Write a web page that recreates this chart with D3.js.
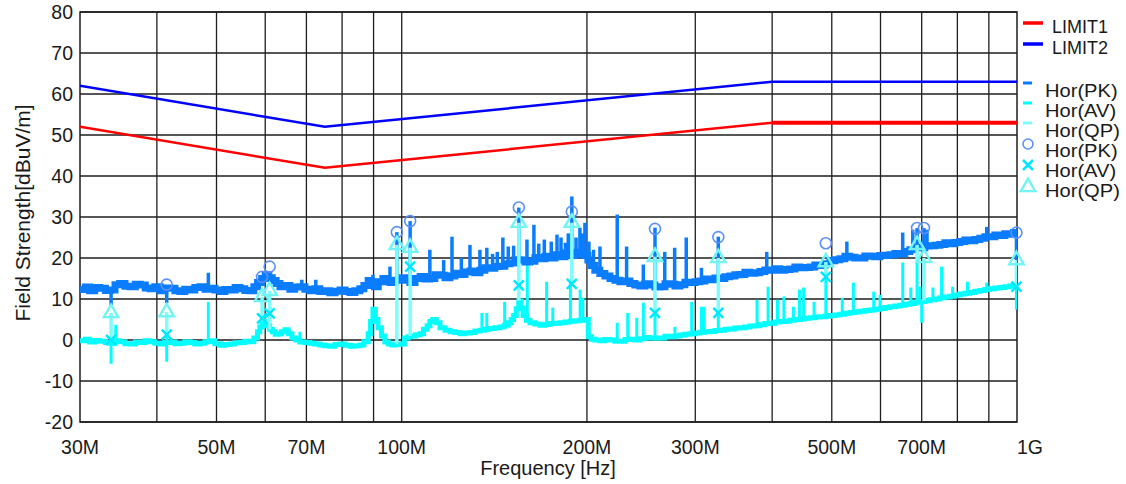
<!DOCTYPE html>
<html>
<head>
<meta charset="utf-8">
<script src="https://cdn.jsdelivr.net/npm/d3@7"></script>
<style>
  html, body { margin: 0; padding: 0; background: #fff; }
  svg { display: block; font-family: "Liberation Sans", Arial, sans-serif; }
</style>
</head>
<body>
<svg id="chart" width="1126" height="484"></svg>
<script>
// Frequency axis (MHz) and level axis (dBuV/m)
const xTickFreqs = [30, 50, 70, 100, 200, 300, 500, 700, 1000];
const xTickLabels = ["30M", "50M", "70M", "100M", "200M", "300M", "500M", "700M", "1G"];
const gridFreqs = [40, 50, 60, 70, 80, 90, 100, 200, 300, 400, 500, 600, 700, 800, 900];
const yTicks = [-20, -10, 0, 10, 20, 30, 40, 50, 60, 70, 80];

// Limit lines
const limitFreqs = [30, 75, 400, 1000];
const limit1 = [52, 42, 53, 53];
const limit2 = [62, 52, 63, 63];

// Peak sweep (MHz, dBuV/m)
const pkSweep = [
  [30,12.3],[30.6,12.9],[31.1,12.0],[31.7,12.8],[32.3,12.6],[33.0,12.1],[33.6,12.2],[34.2,13.5],[34.8,13.8],[35.5,13.1],
  [36.2,13.0],[36.9,13.6],[37.6,13.4],[38.3,12.7],[39.0,12.5],[39.7,13.0],[40.5,12.0],[41.2,12.7],[42.0,12.6],[42.8,12.0],
  [43.6,11.8],[44.4,12.4],[45.3,12.2],[46.1,12.8],[47.0,13.0],[47.9,12.4],[48.8,12.6],[49.7,12.2],[50.7,11.8],[51.6,12.3],
  [52.6,12.2],[53.6,12.8],[54.6,12.5],[55.6,12.1],[56.7,12.0],[57.5,13.0],[58.3,14.0],[59.2,15.0],[60.0,16.0],[60.8,15.2],
  [61.6,14.5],[62.5,13.8],[63.4,13.0],[64.6,13.3],[65.8,12.4],[67.0,12.9],[68.3,13.0],[69.6,12.4],[70.9,12.0],[72.2,12.5],
  [73.6,11.8],[75.0,12.0],[76.4,11.5],[77.9,11.9],[79.4,12.2],[80.9,11.8],[82.4,11.6],[83.9,12.0],[85.5,12.5],[86.8,13.3],
  [88.2,14.5],[89.2,13.6],[90.3,13.0],[91.6,14.2],[93.2,15.0],[94.4,14.3],[95.7,14.0],[97.5,14.6],[99.3,15.2],[101.2,14.6],
  [103.1,14.0],[105.1,15.0],[107.1,15.5],[109.1,14.9],[111.1,15.0],[113.2,15.9],[115.4,15.8],[117.6,15.2],[119.8,15.6],[122.0,16.3],
  [124.3,16.0],[126.7,16.6],[129.1,16.8],[131.5,16.4],[134.0,17.0],[136.5,17.6],[139.1,17.5],[141.7,17.9],[144.4,18.0],[147.1,18.6],
  [149.9,18.8],[152.7,19.6],[155.6,19.5],[158.6,19.0],[161.6,19.2],[164.6,20.1],[167.7,19.8],[170.9,20.4],[174.1,20.0],[177.4,20.8],
  [180.8,20.3],[184.2,21.2],[187.7,20.6],[191.2,21.4],[194.8,21.0],[197.8,20.6],[200.7,19.5],[203.3,18.2],[206.0,17.0],[209.9,16.2],
  [213.9,15.6],[218.0,15.0],[222.1,14.6],[226.3,14.2],[230.6,14.4],[234.9,13.8],[239.3,13.4],[243.8,13.2],[248.4,13.7],[253.1,13.4],
  [257.9,12.9],[262.8,13.0],[267.8,13.7],[272.8,13.6],[278.0,13.2],[283.2,13.5],[288.6,14.1],[294.0,14.0],[299.6,14.2],[305.2,14.4],
  [311.0,14.9],[316.9,14.7],[322.9,15.1],[328.9,15.0],[335.1,15.4],[341.5,15.6],[347.9,15.9],[354.5,16.0],[361.2,16.5],[368.0,16.3],
  [375.0,16.4],[382.0,16.7],[389.2,17.1],[396.6,17.0],[404.1,17.4],[411.7,17.0],[419.5,17.2],[427.4,17.3],[435.5,17.8],[443.7,17.6],
  [452.1,17.7],[460.6,17.8],[469.3,18.3],[478.2,18.2],[487.2,18.6],[496.4,19.3],[505.8,19.6],[515.3,19.8],[525.1,20.4],[535.0,20.2],
  [545.1,20.0],[555.4,20.0],[565.9,20.5],[576.6,20.4],[587.5,20.3],[598.6,20.6],[609.9,20.7],[621.4,20.8],[633.2,21.1],[645.1,21.0],
  [657.3,21.6],[669.7,22.0],[682.4,22.6],[695.2,22.5],[708.4,22.9],[721.7,23.0],[735.3,23.1],[749.2,23.3],[763.4,23.7],[777.8,23.5],
  [792.5,23.8],[807.4,24.0],[822.7,24.4],[838.2,24.2],[854.1,24.5],[870.2,24.8],[886.7,25.2],[903.4,25.2],[920.5,25.6],[937.8,25.5],
  [955.5,25.9],[973.6,25.8],[986.7,26.2],[1000,26.0]
];

// Narrow peak excursions: [MHz, low, high]
const pkSpikes = [
  [33.7,8.5,12.5],[41.5,9.0,12.5],[48.5,12.5,16.4],[68.8,12.5,14.7],[72.5,12.0,14.7],[89.8,13.5,15.9],[95.7,14.0,17.9],
  [98.2,14.5,26.3],[103.2,14.2,29.0],[111.1,15.0,22.0],[117.0,15.3,19.5],[120.7,15.8,25.2],[125.0,16.0,20.0],[129.1,16.8,23.2],
  [134.0,17.0,22.0],[137.5,17.4,22.5],[140.5,17.6,21.0],[143.0,17.9,21.5],[146.0,18.2,25.0],[149.0,18.6,22.8],[152.0,19.2,23.0],
  [155.0,19.4,32.3],[159.8,19.1,24.5],[164.0,20.0,28.1],[167.0,19.8,23.5],[170.5,20.3,24.5],[175.0,20.2,24.0],[178.8,20.6,25.7],
  [181.5,20.5,25.0],[184.5,21.0,23.7],[186.5,21.0,26.0],[189.0,20.8,35.0],[192.0,21.2,25.0],[194.8,21.0,27.4],[196.5,21.0,26.0],
  [198.5,20.4,28.6],[201.5,19.0,24.0],[205.0,17.5,22.0],[210.0,16.2,22.8],[224.0,14.4,30.6],[232.0,14.2,22.8],
  [247.0,13.4,18.4],[258.0,13.1,27.4],[267.6,13.6,21.5],[277.7,13.2,22.5],[290.0,14.0,25.0],[307.0,14.5,17.6],[327.0,15.0,25.2],
  [392.0,17.0,21.5],[529.0,20.2,24.0],[652.0,21.1,26.2],[677.0,22.2,26.9],[688.0,22.4,27.3],[706.0,22.8,27.3],[714.0,22.9,26.9],
  [893.0,25.1,27.6],[998.0,19.5,26.2]
];

// Average sweep (MHz, dBuV/m)
const avSweep = [
  [30,-0.2],[30.6,0.2],[31.1,-0.5],[31.7,-0.1],[32.3,-0.3],[33.0,-0.6],[33.6,-0.8],[34.2,-0.2],[34.8,-0.4],[35.5,-0.9],
  [36.2,-1.0],[36.9,-0.5],[37.6,-0.6],[38.3,-0.2],[39.0,-0.4],[39.7,-0.8],[40.5,-1.0],[41.2,-0.6],[42.0,-0.5],[42.8,-0.9],
  [43.6,-0.8],[44.4,-0.4],[45.3,-0.6],[46.1,-1.0],[47.0,-0.8],[47.9,-0.4],[48.8,-0.2],[49.7,-0.9],[50.7,-1.3],[51.6,-1.1],
  [52.6,-1.0],[53.6,-0.7],[54.6,-0.6],[55.6,-0.3],[56.7,-0.4],[57.5,0.5],[58.3,2.0],[58.8,3.2],[59.3,4.5],[59.8,3.8],
  [60.3,3.5],[61.0,2.6],[61.6,2.0],[62.3,1.4],[63.0,1.5],[63.8,2.0],[64.6,2.5],[65.4,1.5],[66.3,0.5],[67.3,0.0],
  [68.3,-0.5],[69.6,-0.6],[70.9,-0.8],[72.2,-1.0],[73.6,-1.2],[75.0,-1.4],[76.4,-1.5],[77.9,-1.1],[79.4,-1.0],[80.9,-1.3],
  [82.4,-1.5],[83.9,-1.4],[85.5,-1.2],[86.8,-0.4],[88.2,1.5],[89.0,4.5],[89.8,7.5],[90.6,5.0],[91.5,3.0],[92.7,1.0],
  [93.9,-0.5],[95.1,-1.0],[96.4,-1.2],[97.8,-1.1],[99.3,-1.0],[101.0,0.5],[102.4,0.8],[103.8,1.0],[105.4,1.3],[107.1,1.5],
  [108.5,2.6],[110.0,3.5],[111.1,4.5],[112.3,5.0],[113.8,4.2],[115.4,3.0],[117.6,2.4],[119.8,2.0],[122.0,1.8],[124.3,1.5],
  [126.7,1.7],[129.1,1.8],[131.5,2.2],[134.0,2.4],[136.5,2.6],[139.1,2.8],[141.7,3.0],[144.4,3.2],[146.7,3.6],[149.0,4.2],
  [150.6,5.0],[152.0,6.0],[153.5,7.6],[155.0,9.5],[156.3,7.8],[157.5,6.0],[159.5,4.8],[161.6,4.2],[164.6,3.9],[167.7,3.6],
  [170.9,3.8],[174.1,4.0],[177.4,4.1],[180.8,4.2],[184.2,4.4],[187.7,4.6],[191.2,4.7],[194.8,4.8],[197.0,4.9],[199.0,5.0],
  [201.0,0.8],[203.5,0.2],[206.0,0.0],[209.9,-0.2],[213.9,0.1],[218.0,0.0],[222.1,-0.3],[226.3,-0.3],[230.6,0.1],[234.9,0.2],
  [239.3,0.0],[243.8,0.3],[248.4,0.6],[253.1,0.5],[257.9,0.4],[262.8,0.5],[267.8,0.9],[272.8,0.8],[278.0,1.0],[283.2,1.2],
  [288.6,1.4],[294.0,1.5],[299.6,1.7],[305.2,1.9],[311.0,2.0],[316.9,2.1],[322.9,2.3],[328.9,2.4],[335.1,2.6],[341.5,2.7],
  [347.9,2.9],[354.5,3.0],[361.2,3.2],[368.0,3.4],[375.0,3.5],[382.0,3.7],[389.2,4.0],[396.6,4.1],[404.1,4.4],[411.7,4.5],
  [419.5,4.6],[427.4,4.8],[435.5,5.0],[443.7,5.1],[452.1,5.3],[460.6,5.4],[469.3,5.6],[478.2,5.7],[487.2,5.8],[496.4,6.0],
  [505.8,6.1],[515.3,6.3],[525.1,6.5],[535.0,6.7],[545.1,6.8],[555.4,7.0],[565.9,7.2],[576.6,7.3],[587.5,7.5],[598.6,7.7],
  [609.9,7.9],[621.4,8.1],[633.2,8.3],[645.1,8.5],[657.3,8.7],[669.7,8.9],[682.4,9.2],[695.2,9.4],[708.4,9.6],[721.7,9.8],
  [735.3,10.0],[749.2,10.3],[763.4,10.5],[777.8,10.7],[792.5,11.0],[807.4,11.2],[822.7,11.4],[838.2,11.6],[854.1,11.9],[870.2,12.1],
  [886.7,12.3],[903.4,12.5],[920.5,12.7],[937.8,12.8],[955.5,13.0],[973.6,13.2],[986.7,13.4],[1000,13.3]
];

// Narrow average excursions: [MHz, low, high]
const avSpikes = [
  [33.7,-5.8,0.0],[34.3,-0.5,3.7],[41.5,-5.3,1.3],[48.5,-0.5,9.3],[68.3,-0.5,2.0],
  [135.0,2.4,6.6],[137.5,2.6,6.6],[147.0,3.6,9.3],[160.0,4.5,18.9],[172.0,3.9,14.2],[176.0,4.0,7.9],[188.0,4.6,14.7],
  [195.0,4.8,12.3],[197.0,4.9,10.3],[224.0,-0.3,4.2],[233.0,0.1,6.6],[241.0,0.1,5.4],[247.0,0.4,9.1],[258.0,0.4,6.9],
  [278.0,1.0,3.2],[296.0,1.5,9.3],[307.0,1.9,8.1],[310.0,2.0,8.1],[327.0,2.4,6.9],[378.0,3.5,9.8],[394.0,4.0,13.0],
  [408.0,4.4,9.8],[418.0,4.5,10.6],[433.0,4.9,8.1],[443.0,5.1,12.3],[450.0,5.2,12.8],[468.0,5.5,9.3],[489.0,5.8,16.4],
  [520.0,6.3,10.3],[542.0,6.7,14.0],[585.0,7.4,11.8],[599.0,7.7,11.0],[652.0,8.5,18.9],[672.0,8.9,12.8],[688.0,9.2,19.6],
  [695.0,9.4,13.0],[700.0,4.2,9.5],[730.0,9.9,12.8],[754.0,10.3,17.9],[786.0,10.9,13.0],[831.0,11.5,14.2],[893.0,12.4,14.0],
  [998.0,7.4,14.0]
];

// Final measurements at selected frequencies (MHz, dBuV/m)
const qpPoints = [
  [33.7,6.6],[41.5,6.8],[59.3,10.5],[61.0,12.0],[98.2,23.2],[103.2,22.5],[155.0,28.6],[189.0,28.6],
  [258.0,20.3],[327.0,20.0],[489.0,19.0],[688.0,23.2],[706.0,20.0],[998.0,19.5]
];
const qpBase = [
  [33.7,0.0],[41.5,1.3],[59.3,4.5],[61.0,2.6],[98.2,-1.0],[103.2,1.0],[155.0,9.5],[189.0,13.7],
  [258.0,6.6],[327.0,6.6],[489.0,15.4],[688.0,19.6],[706.0,9.6],[998.0,13.0]
];
const pkPoints = [
  [41.5,13.5],[59.3,15.4],[61.0,17.9],[98.2,26.3],[103.2,29.0],[155.0,32.3],[189.0,31.3],
  [258.0,27.1],[327.0,25.1],[489.0,23.6],[688.0,27.3],[706.0,27.3],[998.0,26.2]
];
const avPoints = [
  [33.7,0.0],[41.5,1.3],[59.3,5.3],[61.0,6.5],[103.2,17.9],[155.0,13.3],[189.0,13.7],
  [258.0,6.6],[327.0,6.6],[489.0,15.4],[998.0,13.0]
];

const legendItems = ["LIMIT1", "LIMIT2", "Hor(PK)", "Hor(AV)", "Hor(QP)", "Hor(PK)", "Hor(AV)", "Hor(QP)"];

const C = {
  limit1: "#ff0000", limit2: "#0000ff",
  pk: "#0a7cff", av: "#00ffff", qp: "#7ffdfd",
  pkMark: "#5b8ff9", avMark: "#00e8ff", qpMark: "#70f4f4",
  grid: "#1e1e1e", text: "#1a1a1a"
};

const svg = d3.select("#chart");
const plotL = 80, plotR = 1017, plotT = 12, plotB = 422;
const x = d3.scaleLog().domain([30, 1000]).range([plotL, plotR]);
const y = d3.scaleLinear().domain([-20, 80]).range([plotB, plotT]);

const plot = svg.append("g");
plot.append("defs").append("clipPath").attr("id", "clip")
  .append("rect").attr("x", plotL).attr("y", plotT).attr("width", plotR - plotL).attr("height", plotB - plotT);

// grid
const grid = plot.append("g").attr("stroke", C.grid).attr("stroke-width", 1.3);
grid.selectAll(".gx").data(gridFreqs).join("line")
  .attr("x1", d => x(d)).attr("x2", d => x(d)).attr("y1", plotT).attr("y2", plotB);
grid.selectAll(".gy").data(yTicks).join("line")
  .attr("x1", plotL).attr("x2", plotR).attr("y1", d => y(d)).attr("y2", d => y(d));
plot.append("rect").attr("x", plotL).attr("y", plotT).attr("width", plotR - plotL).attr("height", plotB - plotT)
  .attr("fill", "none").attr("stroke", C.grid).attr("stroke-width", 1.5);

// tick labels
svg.append("g").selectAll("text").data(yTicks).join("text")
  .attr("x", 73).attr("y", d => y(d) + 7).attr("text-anchor", "end")
  .attr("font-size", 19.5).attr("fill", C.text).text(d => d);
svg.append("g").selectAll("text").data(xTickFreqs).join("text")
  .attr("x", (d, i) => x(d) + (i === xTickFreqs.length - 1 ? 13 : 0)).attr("y", 454)
  .attr("text-anchor", "middle").attr("font-size", 19.5).attr("fill", C.text)
  .text((d, i) => xTickLabels[i]);

svg.append("text").attr("x", 548).attr("y", 475).attr("text-anchor", "middle")
  .attr("font-size", 20).attr("fill", C.text).text("Frequency [Hz]");
svg.append("text").attr("transform", "translate(30,213) rotate(-90)").attr("text-anchor", "middle")
  .attr("font-size", 21).attr("fill", C.text).text("Field Strength[dBuV/m]");

const data = plot.append("g").attr("clip-path", "url(#clip)");
const line = d3.line().curve(d3.curveStepAfter).x(d => x(d[0])).y(d => y(d[1]));

// average sweep
data.append("path").datum(avSweep).attr("d", line).attr("fill", "none")
  .attr("stroke", C.av).attr("stroke-width", 5);
data.append("g").selectAll("line").data(avSpikes).join("line")
  .attr("x1", d => x(d[0])).attr("x2", d => x(d[0])).attr("y1", d => y(d[1])).attr("y2", d => y(d[2]))
  .attr("stroke", C.av).attr("stroke-width", 3);

// peak sweep
data.append("path").datum(pkSweep).attr("d", line).attr("fill", "none")
  .attr("stroke", C.pk).attr("stroke-width", 7);
data.append("g").selectAll("line").data(pkSpikes).join("line")
  .attr("x1", d => x(d[0])).attr("x2", d => x(d[0])).attr("y1", d => y(d[1])).attr("y2", d => y(d[2]))
  .attr("stroke", C.pk).attr("stroke-width", 3.5);

// final measurement stems
data.append("g").selectAll("line").data(qpPoints).join("line")
  .attr("x1", d => x(d[0])).attr("x2", d => x(d[0]))
  .attr("y1", (d, i) => y(qpBase[i][1])).attr("y2", d => y(d[1]))
  .attr("stroke", C.qp).attr("stroke-width", 3.5);

// limits
const limitLine = vals => d3.line().x((d, i) => x(limitFreqs[i])).y(d => y(d))(vals);
data.append("path").attr("d", limitLine(limit2)).attr("fill", "none").attr("stroke", C.limit2).attr("stroke-width", 2.5);
data.append("path").attr("d", limitLine(limit1)).attr("fill", "none").attr("stroke", C.limit1).attr("stroke-width", 2.5);
data.append("line").attr("x1", x(limitFreqs[2])).attr("x2", x(limitFreqs[3]))
  .attr("y1", y(limit1[2])).attr("y2", y(limit1[3])).attr("stroke", C.limit1).attr("stroke-width", 4);

// markers
const marks = plot.append("g");
marks.selectAll(".pkm").data(pkPoints).join("circle")
  .attr("cx", d => x(d[0])).attr("cy", d => y(d[1])).attr("r", 5.5)
  .attr("fill", "none").attr("stroke", C.pkMark).attr("stroke-width", 1.6);
const tri = d3.symbol().type(d3.symbolTriangle).size(90);
marks.selectAll(".qpm").data(qpPoints).join("path")
  .attr("transform", d => `translate(${x(d[0])},${y(d[1])})`).attr("d", tri)
  .attr("fill", "none").attr("stroke", C.qpMark).attr("stroke-width", 2.4);
const cross = "M-5,-5L5,5M-5,5L5,-5";
marks.selectAll(".avm").data(avPoints).join("path")
  .attr("transform", d => `translate(${x(d[0])},${y(d[1])})`).attr("d", cross)
  .attr("fill", "none").attr("stroke", C.avMark).attr("stroke-width", 2.5);

// legend
const lg = svg.append("g");
const legendBase = [33, 54, 97, 117, 137, 157, 177, 197];
const legendColors = [C.limit1, C.limit2, C.pk, C.av, C.qp];
legendItems.forEach((label, i) => {
  const b = legendBase[i];
  if (i < 2) {
    lg.append("line").attr("x1", 1023).attr("x2", 1043).attr("y1", b - 10).attr("y2", b - 10)
      .attr("stroke", legendColors[i]).attr("stroke-width", 3.5);
  } else if (i < 5) {
    lg.append("line").attr("x1", 1023).attr("x2", 1032).attr("y1", b - 14).attr("y2", b - 14)
      .attr("stroke", legendColors[i]).attr("stroke-width", 3);
  } else if (i === 5) {
    lg.append("circle").attr("cx", 1028).attr("cy", b - 13).attr("r", 5)
      .attr("fill", "none").attr("stroke", C.pkMark).attr("stroke-width", 1.6);
  } else if (i === 6) {
    lg.append("path").attr("transform", `translate(1028,${b - 12})`).attr("d", cross)
      .attr("fill", "none").attr("stroke", C.avMark).attr("stroke-width", 2.5);
  } else {
    lg.append("path").attr("transform", `translate(1028,${b - 10})`).attr("d", tri)
      .attr("fill", "none").attr("stroke", C.qpMark).attr("stroke-width", 2.4);
  }
  const tx = i < 2 ? 1052 : 1045;
  const fs = i < 2 ? 18 : 17.5;
  const sx = i < 2 ? 1.0 : 1.15;
  lg.append("text").attr("transform", `translate(${tx},${b}) scale(${sx},1)`)
    .attr("font-size", fs).attr("fill", C.text).text(label);
});
</script>
</body>
</html>
